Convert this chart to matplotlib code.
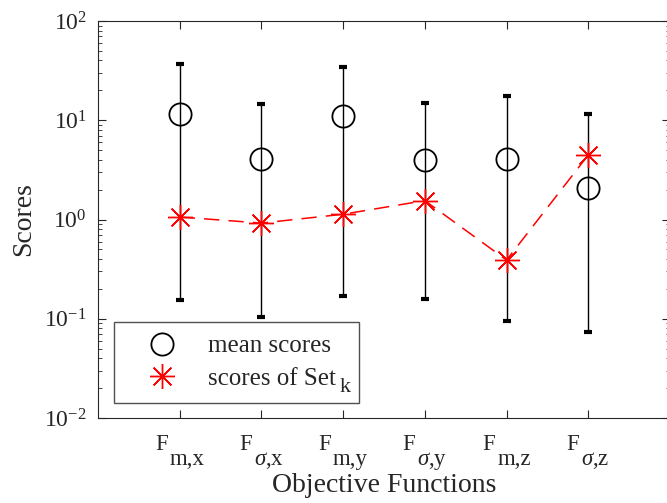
import matplotlib
matplotlib.use('Agg')
import matplotlib.pyplot as plt
import matplotlib.transforms as mtransforms
from matplotlib.offsetbox import DrawingArea
import numpy as np

plt.rcParams['font.family'] = ['Liberation Serif', 'DejaVu Serif']
plt.rcParams['mathtext.fontset'] = 'custom'
plt.rcParams['mathtext.rm'] = 'Liberation Serif'
plt.rcParams['mathtext.it'] = 'Liberation Serif:italic'

# data
tick_main = ['F', 'F', 'F', 'F', 'F', 'F']
tick_sub = ['m,x', r'$\sigma$,x', 'm,y', r'$\sigma$,y', 'm,z', r'$\sigma$,z']
mean_scores = [11.6, 4.07, 11.0, 4.0, 4.1, 2.1]
upper = [36.9, 14.6, 34.4, 14.8, 17.5, 11.6]
lower = [0.155, 0.104, 0.17, 0.158, 0.095, 0.074]
set_k = [1.06, 0.92, 1.13, 1.55, 0.39, 4.47]

x = np.arange(1, len(tick_main) + 1)
err = [np.array(mean_scores) - np.array(lower), np.array(upper) - np.array(mean_scores)]

dark = '#262626'
fig = plt.figure(figsize=(6.67, 5.03), dpi=100)
ax = fig.add_axes([98 / 667, 1 - 418 / 503, 572 / 667, 397 / 503])

ax.errorbar(x, mean_scores, yerr=err, fmt='none', ecolor='black', elinewidth=1,
            capsize=3, capthick=3)
ax.plot(x, mean_scores, 'o', mfc='none', mec='black', ms=16, mew=1.3,
        label='mean scores')
ax.plot(x, set_k, color='red', lw=1.1, dashes=(10, 6))
ax.plot(x, set_k, ls='none', color='red', marker=(8, 2, 0), ms=18, mew=1,
        label='scores of Set')

ax.set_yscale('log')
ax.set_ylim(1e-2, 1e2)
ax.set_xlim(0, 7)
ax.set_xticks(x)
ax.set_xticklabels([])
ax.set_yticks([1e-2, 1e-1, 1e0, 1e1, 1e2])
ax.tick_params(direction='in', which='both', top=True, right=True,
               labelsize=17, colors=dark, labelcolor=dark, pad=8)
ax.tick_params(which='major', length=6)
ax.tick_params(which='minor', length=3)
for s in ax.spines.values():
    s.set_color(dark)

ax.set_xlabel('Objective Functions', fontsize=20, color=dark, va='baseline')
ax.xaxis.set_label_coords(0.5, -0.186)
ax.set_ylabel('Scores', fontsize=20, color=dark, labelpad=6)

leg = ax.legend(loc='lower left', bbox_to_anchor=(0.028, 0.038), fontsize=18,
                frameon=True, fancybox=False, edgecolor=dark, borderpad=0.52,
                handlelength=2.8, handletextpad=0.42, labelspacing=0.4,
                borderaxespad=0)
leg.get_frame().set_linewidth(1)
for t in leg.get_texts():
    t.set_color(dark)
# room for the lowered "k" after "Set"
row = leg._legend_handle_box.get_children()[0].get_children()[1]
row.get_children().append(DrawingArea(0, 1))

# two-part tick labels (F with a large, deeply lowered subscript)
xtrans = ax.get_xaxis_transform()
fig.canvas.draw()
r = fig.canvas.get_renderer()
for xi, m, s in zip(x, tick_main, tick_sub):
    t1 = ax.annotate(m, xy=(xi, 0), xycoords=xtrans, xytext=(0, -23),
                     textcoords='offset points', ha='left', va='baseline',
                     fontsize=16.5, color=dark, annotation_clip=False)
    t2 = ax.annotate(s, xy=(xi, 0), xycoords=xtrans, xytext=(0, -33.5),
                     textcoords='offset points', ha='left', va='baseline',
                     fontsize=16.5, color=dark, annotation_clip=False)
    w1 = t1.get_window_extent(r).width * 72 / fig.dpi
    w2 = t2.get_window_extent(r).width * 72 / fig.dpi
    gap = 1.5
    total = w1 + gap + w2
    t1.xyann = (-total / 2, -23)
    t2.xyann = (-total / 2 + w1 + gap, -33.5)

# lowered "k" subscript inside the legend box
fig.canvas.draw()
fb = leg.get_frame().get_window_extent(r)
off = mtransforms.ScaledTranslation(-6 / 72, 7.5 / 72, fig.dpi_scale_trans)
fig.text(fb.x1 / fig.bbox.width, fb.y0 / fig.bbox.height, 'k', fontsize=16,
         color=dark, ha='right', va='baseline',
         transform=fig.transFigure + off)

fig.savefig('out.png', dpi=100)
